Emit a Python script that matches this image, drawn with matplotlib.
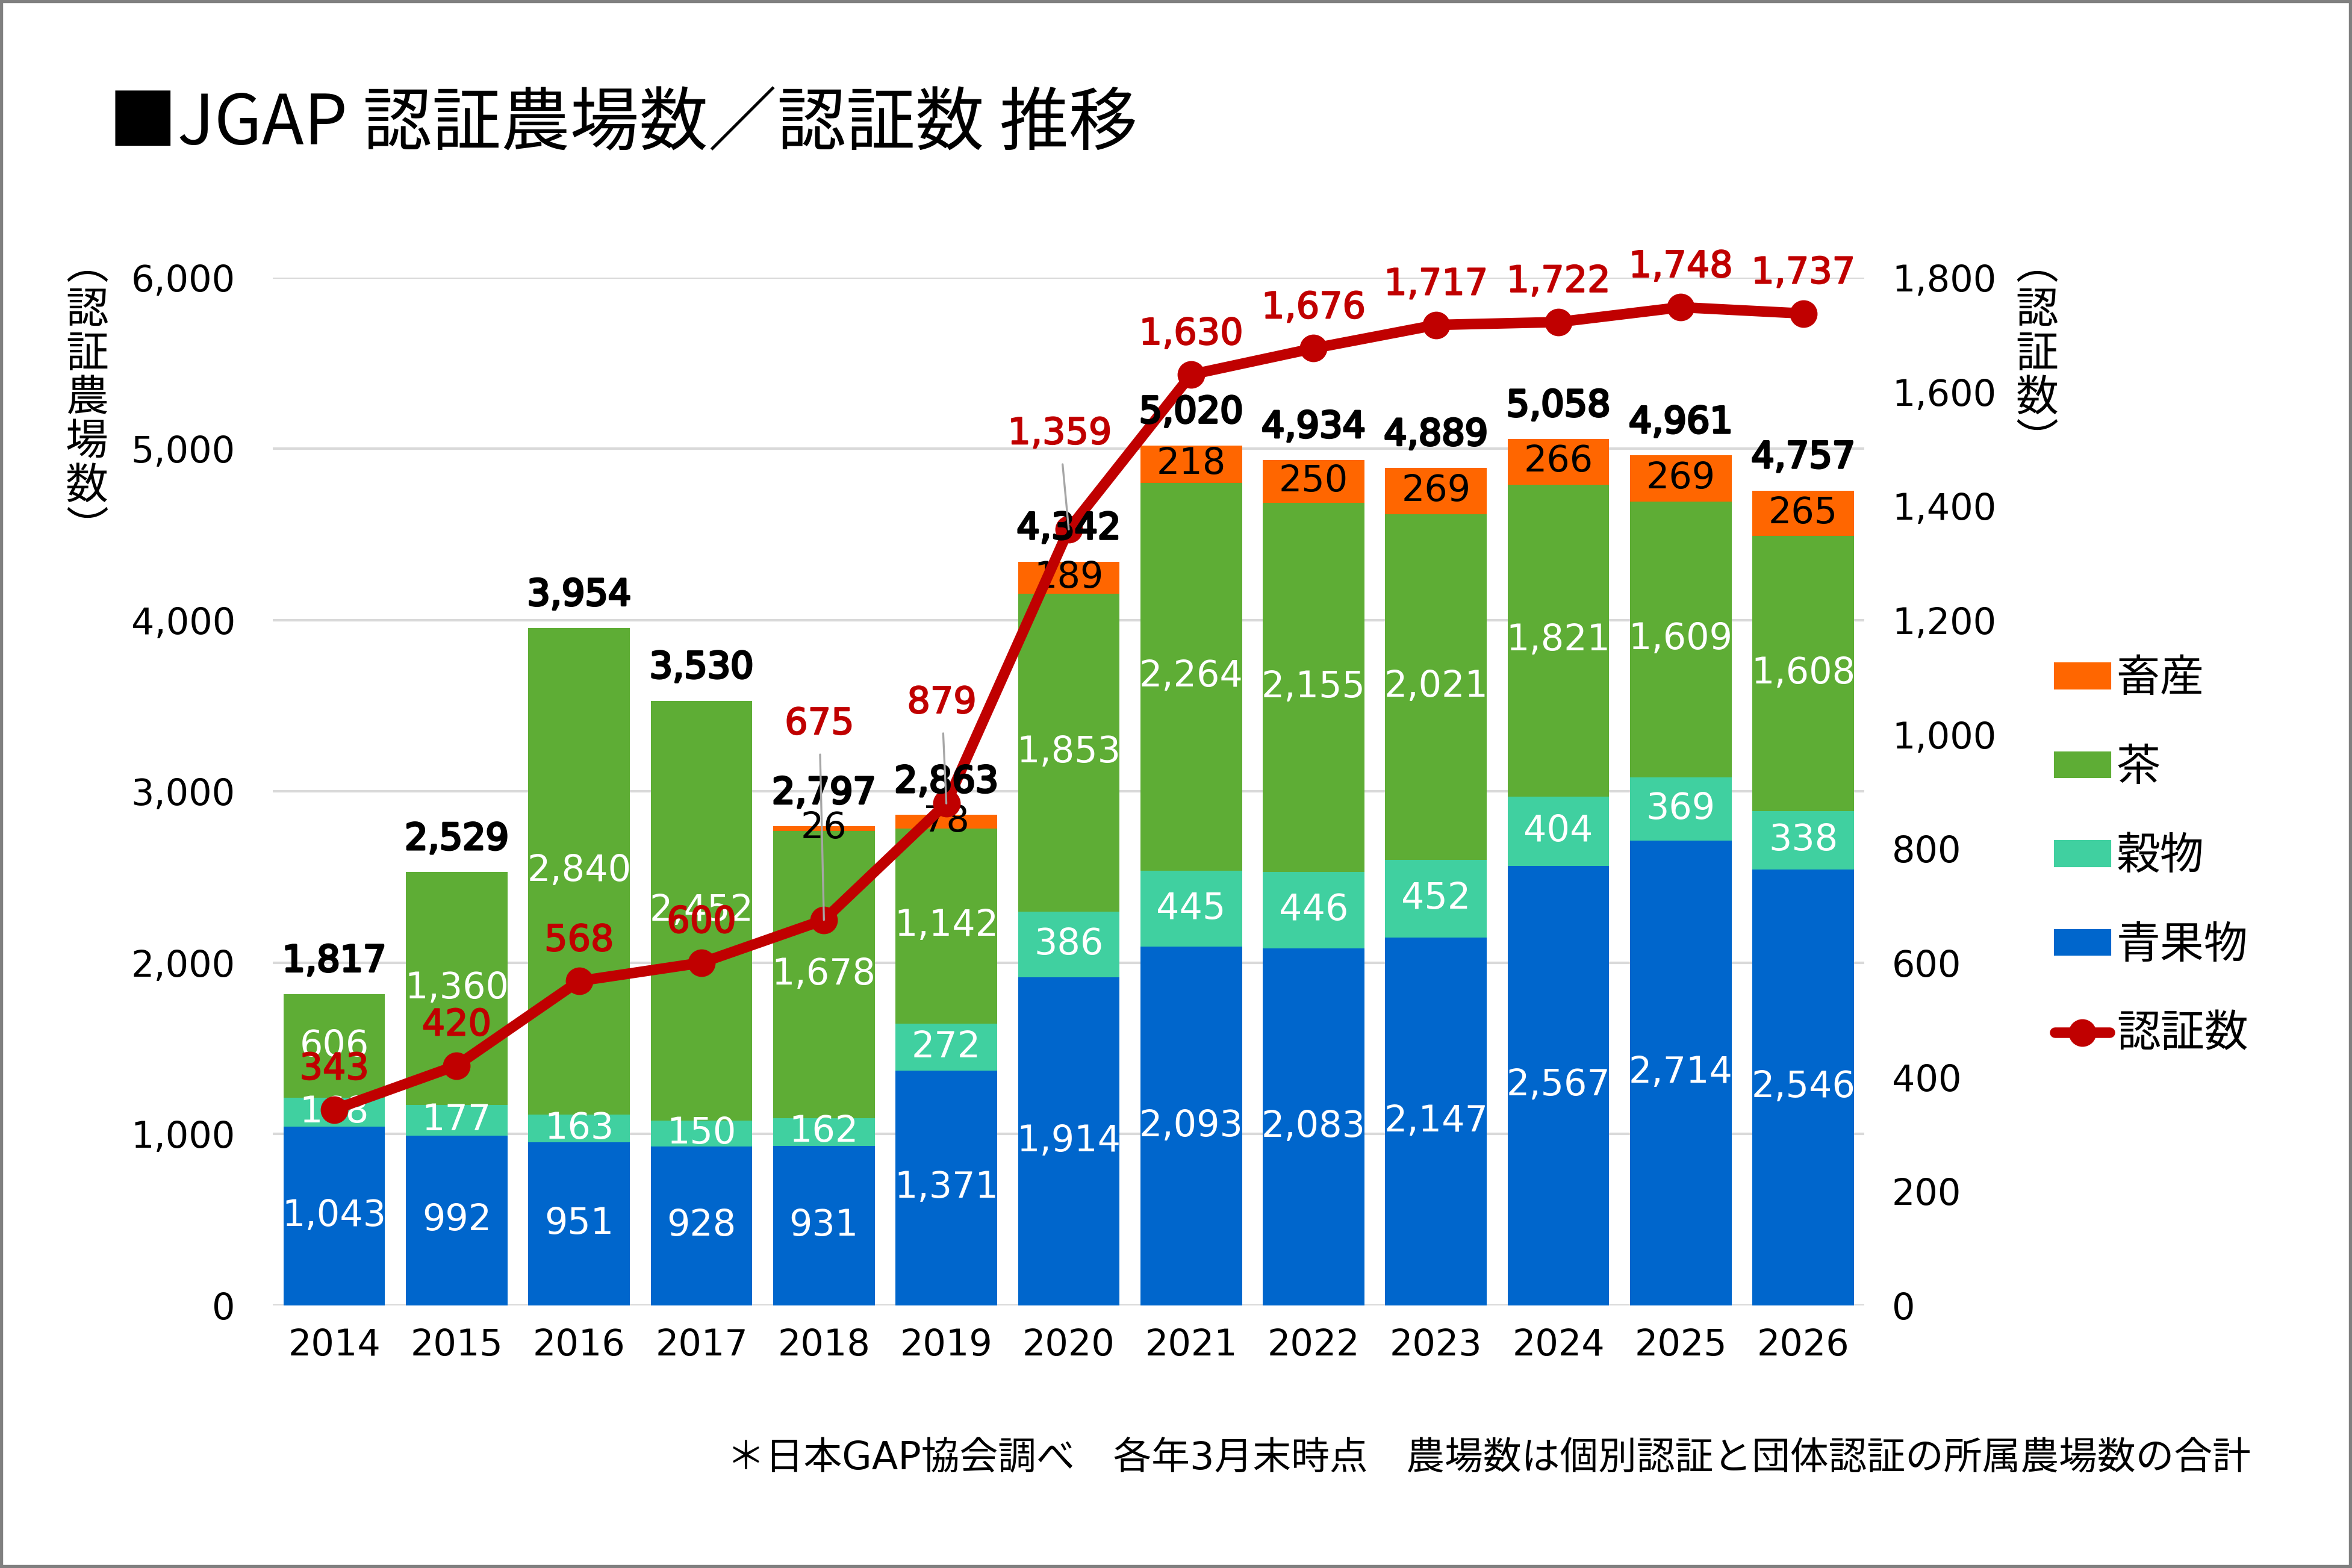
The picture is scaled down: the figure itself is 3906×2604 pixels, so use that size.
import matplotlib
matplotlib.use('Agg')
import matplotlib.pyplot as plt
import matplotlib.patheffects as pe
import numpy as np
from matplotlib.patches import Patch, Rectangle
from matplotlib.lines import Line2D
from matplotlib.ticker import FuncFormatter

plt.rcParams['font.family'] = ['DejaVu Sans', 'Noto Sans CJK JP']

years = ['2014', '2015', '2016', '2017', '2018', '2019', '2020',
         '2021', '2022', '2023', '2024', '2025', '2026']
seika = [1043, 992, 951, 928, 931, 1371, 1914, 2093, 2083, 2147, 2567, 2714, 2546]
kokumotsu = [168, 177, 163, 150, 162, 272, 386, 445, 446, 452, 404, 369, 338]
cha = [606, 1360, 2840, 2452, 1678, 1142, 1853, 2264, 2155, 2021, 1821, 1609, 1608]
chikusan = [0, 0, 0, 0, 26, 78, 189, 218, 250, 269, 266, 269, 265]
totals = [1817, 2529, 3954, 3530, 2797, 2863, 4342, 5020, 4934, 4889, 5058, 4961, 4757]
ninsho = [343, 420, 568, 600, 675, 879, 1359, 1630, 1676, 1717, 1722, 1748, 1737]

legend_labels = ['畜産', '茶', '穀物', '青果物', '認証数']

C_SEIKA = '#0066CC'
C_KOKU = '#40D0A0'
C_CHA = '#5EAD35'
C_CHIKU = '#FF6600'
C_LINE = '#C00000'
C_GRID = '#D9D9D9'

fig = plt.figure(figsize=(13.02, 8.68), dpi=300)
ax = fig.add_axes([0.1161, 0.1675, 0.6766, 0.6555])

x = np.arange(len(years))
w = 0.83
s = np.array(seika)
k = np.array(kokumotsu)
c = np.array(cha)
ch = np.array(chikusan)

b1 = ax.bar(x, s, w, color=C_SEIKA, zorder=2)
b2 = ax.bar(x, k, w, bottom=s, color=C_KOKU, zorder=2)
b3 = ax.bar(x, c, w, bottom=s + k, color=C_CHA, zorder=2)
b4 = ax.bar(x, ch, w, bottom=s + k + c, color=C_CHIKU, zorder=2)

fs = 14.5
ax.bar_label(b1, labels=[f'{v:,}' for v in seika], label_type='center', color='white', fontsize=fs)
ax.bar_label(b2, labels=[f'{v:,}' for v in kokumotsu], label_type='center', color='white', fontsize=fs)
ax.bar_label(b3, labels=[f'{v:,}' for v in cha], label_type='center', color='white', fontsize=fs)
ax.bar_label(b4, labels=[f'{v:,}' if v else '' for v in chikusan], label_type='center', color='black', fontsize=fs)

ax.set_xlim(-0.5, len(years) - 0.5)
ax.set_ylim(0, 6000)
ax.set_yticks(range(0, 6001, 1000))
ax.yaxis.set_major_formatter(FuncFormatter(lambda v, p: f'{int(v):,}'))
ax.set_xticks(x)
ax.set_xticklabels(years)
ax.tick_params(axis='y', length=0, pad=15, labelsize=fs)
ax.tick_params(axis='x', length=0, pad=9, labelsize=fs)
ax.yaxis.grid(True, color=C_GRID, lw=1.0, zorder=0)
ax.set_axisbelow(True)
for sp in ax.spines.values():
    sp.set_visible(False)

ax2 = ax.twinx()
ax2.plot(x, ninsho, color=C_LINE, lw=4.2, marker='o', ms=10, zorder=3,
         solid_capstyle='round')
ax2.set_ylim(0, 1800)
ax2.set_yticks(range(0, 1801, 200))
ax2.yaxis.set_major_formatter(FuncFormatter(lambda v, p: f'{int(v):,}'))
ax2.tick_params(axis='y', length=0, pad=11, labelsize=fs)
for sp in ax2.spines.values():
    sp.set_visible(False)

# totals (semi-bold look)
for i, t in enumerate(totals):
    ax2.annotate(f'{t:,}', xy=(i, t), xycoords=ax.transData, xytext=(0, 13),
                 textcoords='offset points', ha='center', va='center',
                 fontsize=fs, color='black', zorder=5,
                 path_effects=[pe.withStroke(linewidth=0.9, foreground='black')])

# line labels
special = {4: (-1.8, 78), 5: (-1.8, 40), 6: (-3.6, 38)}
for i, v in enumerate(ninsho):
    off = special.get(i, (0, 16))
    kw = {}
    if i in special:
        kw['arrowprops'] = dict(arrowstyle='-', color='#A6A6A6', lw=0.8,
                                shrinkA=3, shrinkB=0)
    ax2.annotate(f'{v:,}', xy=(i, v), xytext=off, textcoords='offset points',
                 ha='center', va='center', fontsize=fs,
                 color=C_LINE, zorder=6,
                 path_effects=[pe.withStroke(linewidth=0.5, foreground=C_LINE)], **kw)

# title
fig.text(0.046, 0.9206, '■JGAP 認証農場数／認証数 推移', ha='left', va='center',
         fontsize=27.5, family=['Noto Sans CJK JP', 'DejaVu Sans'])

# axis titles (vertical)
fig.text(0.037, 0.746, '︵\n認\n証\n農\n場\n数\n︶', ha='center', va='center',
         fontsize=17, linespacing=1.0, family=['Noto Sans CJK JP', 'DejaVu Sans'])
fig.text(0.866, 0.774, '︵\n認\n証\n数\n︶', ha='center', va='center',
         fontsize=17, linespacing=1.0, family=['Noto Sans CJK JP', 'DejaVu Sans'])

# legend
handles = [Patch(color=C_CHIKU), Patch(color=C_CHA), Patch(color=C_KOKU), Patch(color=C_SEIKA),
           Line2D([], [], color=C_LINE, lw=4.2, marker='o', ms=10, solid_capstyle='round')]
fig.legend(handles, legend_labels, loc='center left', bbox_to_anchor=(0.8737, 0.4536),
           frameon=False, fontsize=17.5, handlelength=1.25, handleheight=0.48,
           handletextpad=0.15, labelspacing=1.05, borderpad=0, borderaxespad=0)

# footnote
fig.text(0.957, 0.0699, '＊日本GAP協会調べ　各年3月末時点　農場数は個別認証と団体認証の所属農場数の合計',
         ha='right', va='center', fontsize=15.3)

# frame
fig.patches.append(Rectangle((0, 0), 1, 1, transform=fig.transFigure, fill=False,
                             edgecolor='#808080', lw=2.5))

fig.savefig('out.png', dpi=300)
